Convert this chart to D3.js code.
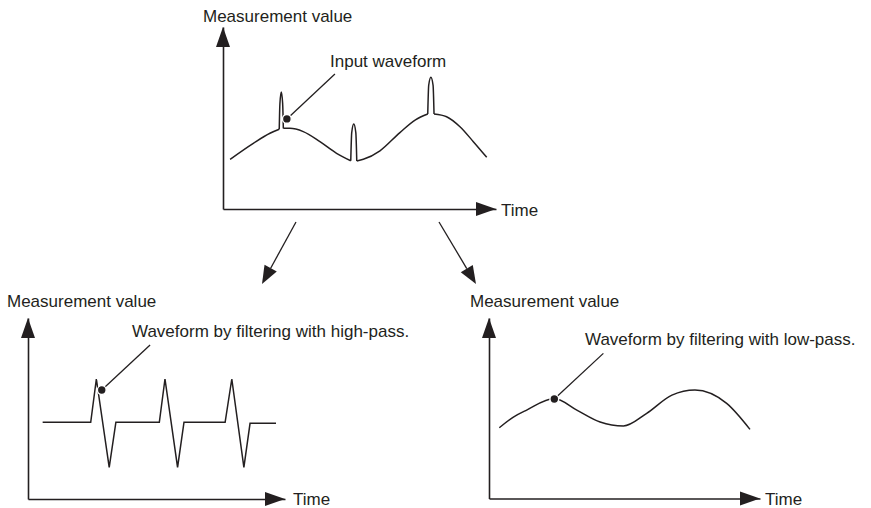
<!DOCTYPE html>
<html>
<head>
<meta charset="utf-8">
<script src="https://cdn.jsdelivr.net/npm/d3@7"></script>
<style>
  body { margin: 0; background: #fff; }
  svg { display: block; }
  text { font-family: "Liberation Sans", Arial, Helvetica, sans-serif; font-size: 17px; fill: #231f20; }
</style>
</head>
<body>
<script>
// ---- Data (time, value) in each panel's 0..100 units ----

// Input waveform: smooth underlying signal, broken where the noise spikes sit
const inputCurve = [
  [[2.6, 27.3], [11.1, 36.1], [17.2, 41.6], [20.6, 43.8]],
  [[22.1, 44.3], [24.5, 44.3], [29.4, 42.5], [35.5, 37.0], [41.6, 30.6], [46.8, 26.5]],
  [[49.0, 26.4], [51.4, 27.3], [57.5, 32.0], [64.8, 42.0], [70.5, 49.0], [75.0, 52.2]],
  [[77.3, 52.2], [81.9, 50.7], [86.8, 45.2], [91.7, 37.0], [96.6, 28.4]]
];
// Short noise spikes riding on the input signal
const inputSpikes = [
  [[20.6, 43.8], [20.85, 58.0], [21.35, 64.3], [21.85, 58.0], [22.1, 44.3]],
  [[46.8, 26.5], [47.15, 42.0], [47.9, 46.7], [48.65, 42.0], [49.0, 26.4]],
  [[75.0, 52.2], [75.35, 68.0], [76.15, 72.4], [76.95, 68.0], [77.3, 52.2]]
];
// High-pass output: only the fast edges survive
const highPass = [
  [5.7, 42.4], [24.4, 42.4], [26.6, 66.3], [31.6, 17.5], [34.2, 42.4],
  [51.1, 42.4], [53.3, 66.3], [58.2, 17.5], [60.7, 42.4],
  [76.7, 42.4], [79.3, 66.3], [84.0, 17.5], [86.4, 41.8], [96.5, 41.8]
];
// Low-pass output: the slow signal with spikes removed
const lowPass = [
  [3.8, 39.2], [9.0, 45.1], [13.9, 49.0], [24.1, 55.4], [32.4, 49.0], [41.0, 42.4],
  [49.6, 40.2], [58.2, 47.2], [67.5, 57.3], [76.0, 60.1], [87.7, 52.7], [96.3, 38.3]
];

// Axis titles and callout texts
const yTitle = "Measurement value";
const xTitle = "Time";
const calloutTexts = [
  "Input waveform",
  "Waveform by filtering with high-pass.",
  "Waveform by filtering with low-pass."
];
// Callout anchor (dot) and leader end, in panel units
const calloutDots = [[23.4, 49.5], [28.7, 60.2], [24.1, 55.1]];
const calloutEnds = [[41.0, 74.2], [47.5, 85.1], [42.2, 80.4]];

// ---- Layout ----
const W = 871, H = 508;
const INK = "#231f20";
const svg = d3.select("body").append("svg").attr("width", W).attr("height", H);

// Axis boxes: origin (x0,y0), arrow tips at x1 and y1
const panels = [
  { x0: 223, y0: 209, x1: 496, y1: 27 },
  { x0: 28,  y0: 499, x1: 285, y1: 318 },
  { x0: 489, y0: 498.5, x1: 760, y1: 318 }
];
panels.forEach(p => {
  p.x = d3.scaleLinear().domain([0, 100]).range([p.x0, p.x1]);
  p.y = d3.scaleLinear().domain([0, 100]).range([p.y0, p.y1]);
});

const ARROW_LEN = 20, ARROW_HALF = 7;

function drawAxes(p, yTitlePos, xTitlePos) {
  const g = svg.append("g");
  // horizontal axis (no ticks, line only)
  g.append("g")
    .attr("transform", `translate(0,${p.y0})`)
    .call(d3.axisBottom(p.x).tickValues([]).tickSizeOuter(0))
    .call(s => s.select(".domain").attr("stroke", INK).attr("stroke-width", 1.6));
  // vertical axis
  g.append("g")
    .attr("transform", `translate(${p.x0},0)`)
    .call(d3.axisLeft(p.y).tickValues([]).tickSizeOuter(0))
    .call(s => s.select(".domain").attr("stroke", INK).attr("stroke-width", 1.6));
  // arrow heads
  g.append("path")
    .attr("d", `M${p.x1},${p.y0} L${p.x1 - ARROW_LEN},${p.y0 - ARROW_HALF} L${p.x1 - ARROW_LEN},${p.y0 + ARROW_HALF} Z`)
    .attr("fill", INK);
  g.append("path")
    .attr("d", `M${p.x0},${p.y1} L${p.x0 - ARROW_HALF},${p.y1 + ARROW_LEN} L${p.x0 + ARROW_HALF},${p.y1 + ARROW_LEN} Z`)
    .attr("fill", INK);
  g.append("text").attr("x", yTitlePos[0]).attr("y", yTitlePos[1]).text(yTitle);
  g.append("text").attr("x", xTitlePos[0]).attr("y", xTitlePos[1]).text(xTitle);
}

drawAxes(panels[0], [203, 22], [501, 216]);
drawAxes(panels[1], [7, 307], [293, 505]);
drawAxes(panels[2], [470, 307], [765, 505]);

function wave(p, pts, curve) {
  svg.append("path")
    .datum(pts)
    .attr("fill", "none")
    .attr("stroke", INK)
    .attr("stroke-width", 1.5)
    .attr("d", d3.line().x(d => p.x(d[0])).y(d => p.y(d[1])).curve(curve));
}

// Input waveform
inputCurve.forEach(seg => wave(panels[0], seg, d3.curveMonotoneX));
inputSpikes.forEach(sp => wave(panels[0], sp, d3.curveMonotoneX));
// High-pass result
wave(panels[1], highPass, d3.curveLinear);
// Low-pass result
wave(panels[2], lowPass, d3.curveMonotoneX);

// Callouts: leader line, dot and label
const labelPos = [[330, 67], [132, 337], [585, 345]];
panels.forEach((p, i) => {
  const d = calloutDots[i], e = calloutEnds[i];
  svg.append("line")
    .attr("x1", p.x(d[0])).attr("y1", p.y(d[1]))
    .attr("x2", p.x(e[0])).attr("y2", p.y(e[1]))
    .attr("stroke", INK).attr("stroke-width", 1.3);
  svg.append("circle")
    .attr("cx", p.x(d[0])).attr("cy", p.y(d[1])).attr("r", 4.4)
    .attr("fill", INK).attr("stroke", "#fff").attr("stroke-width", 1.4);
  svg.append("text").attr("x", labelPos[i][0]).attr("y", labelPos[i][1]).text(calloutTexts[i]);
});

// Arrows from the input chart down to the two filtered results
const flowArrows = [
  [[296, 222], [262, 284]],
  [[439, 222], [476, 284]]
];
flowArrows.forEach(([a, b]) => {
  const ang = Math.atan2(b[1] - a[1], b[0] - a[0]);
  const L = 18, Hw = 7;
  const bx = b[0] - L * Math.cos(ang), by = b[1] - L * Math.sin(ang);
  svg.append("line")
    .attr("x1", a[0]).attr("y1", a[1]).attr("x2", bx).attr("y2", by)
    .attr("stroke", INK).attr("stroke-width", 1.3);
  svg.append("path")
    .attr("d", `M${b[0]},${b[1]} L${bx + Hw * Math.sin(ang)},${by - Hw * Math.cos(ang)} L${bx - Hw * Math.sin(ang)},${by + Hw * Math.cos(ang)} Z`)
    .attr("fill", INK);
});
</script>
</body>
</html>
